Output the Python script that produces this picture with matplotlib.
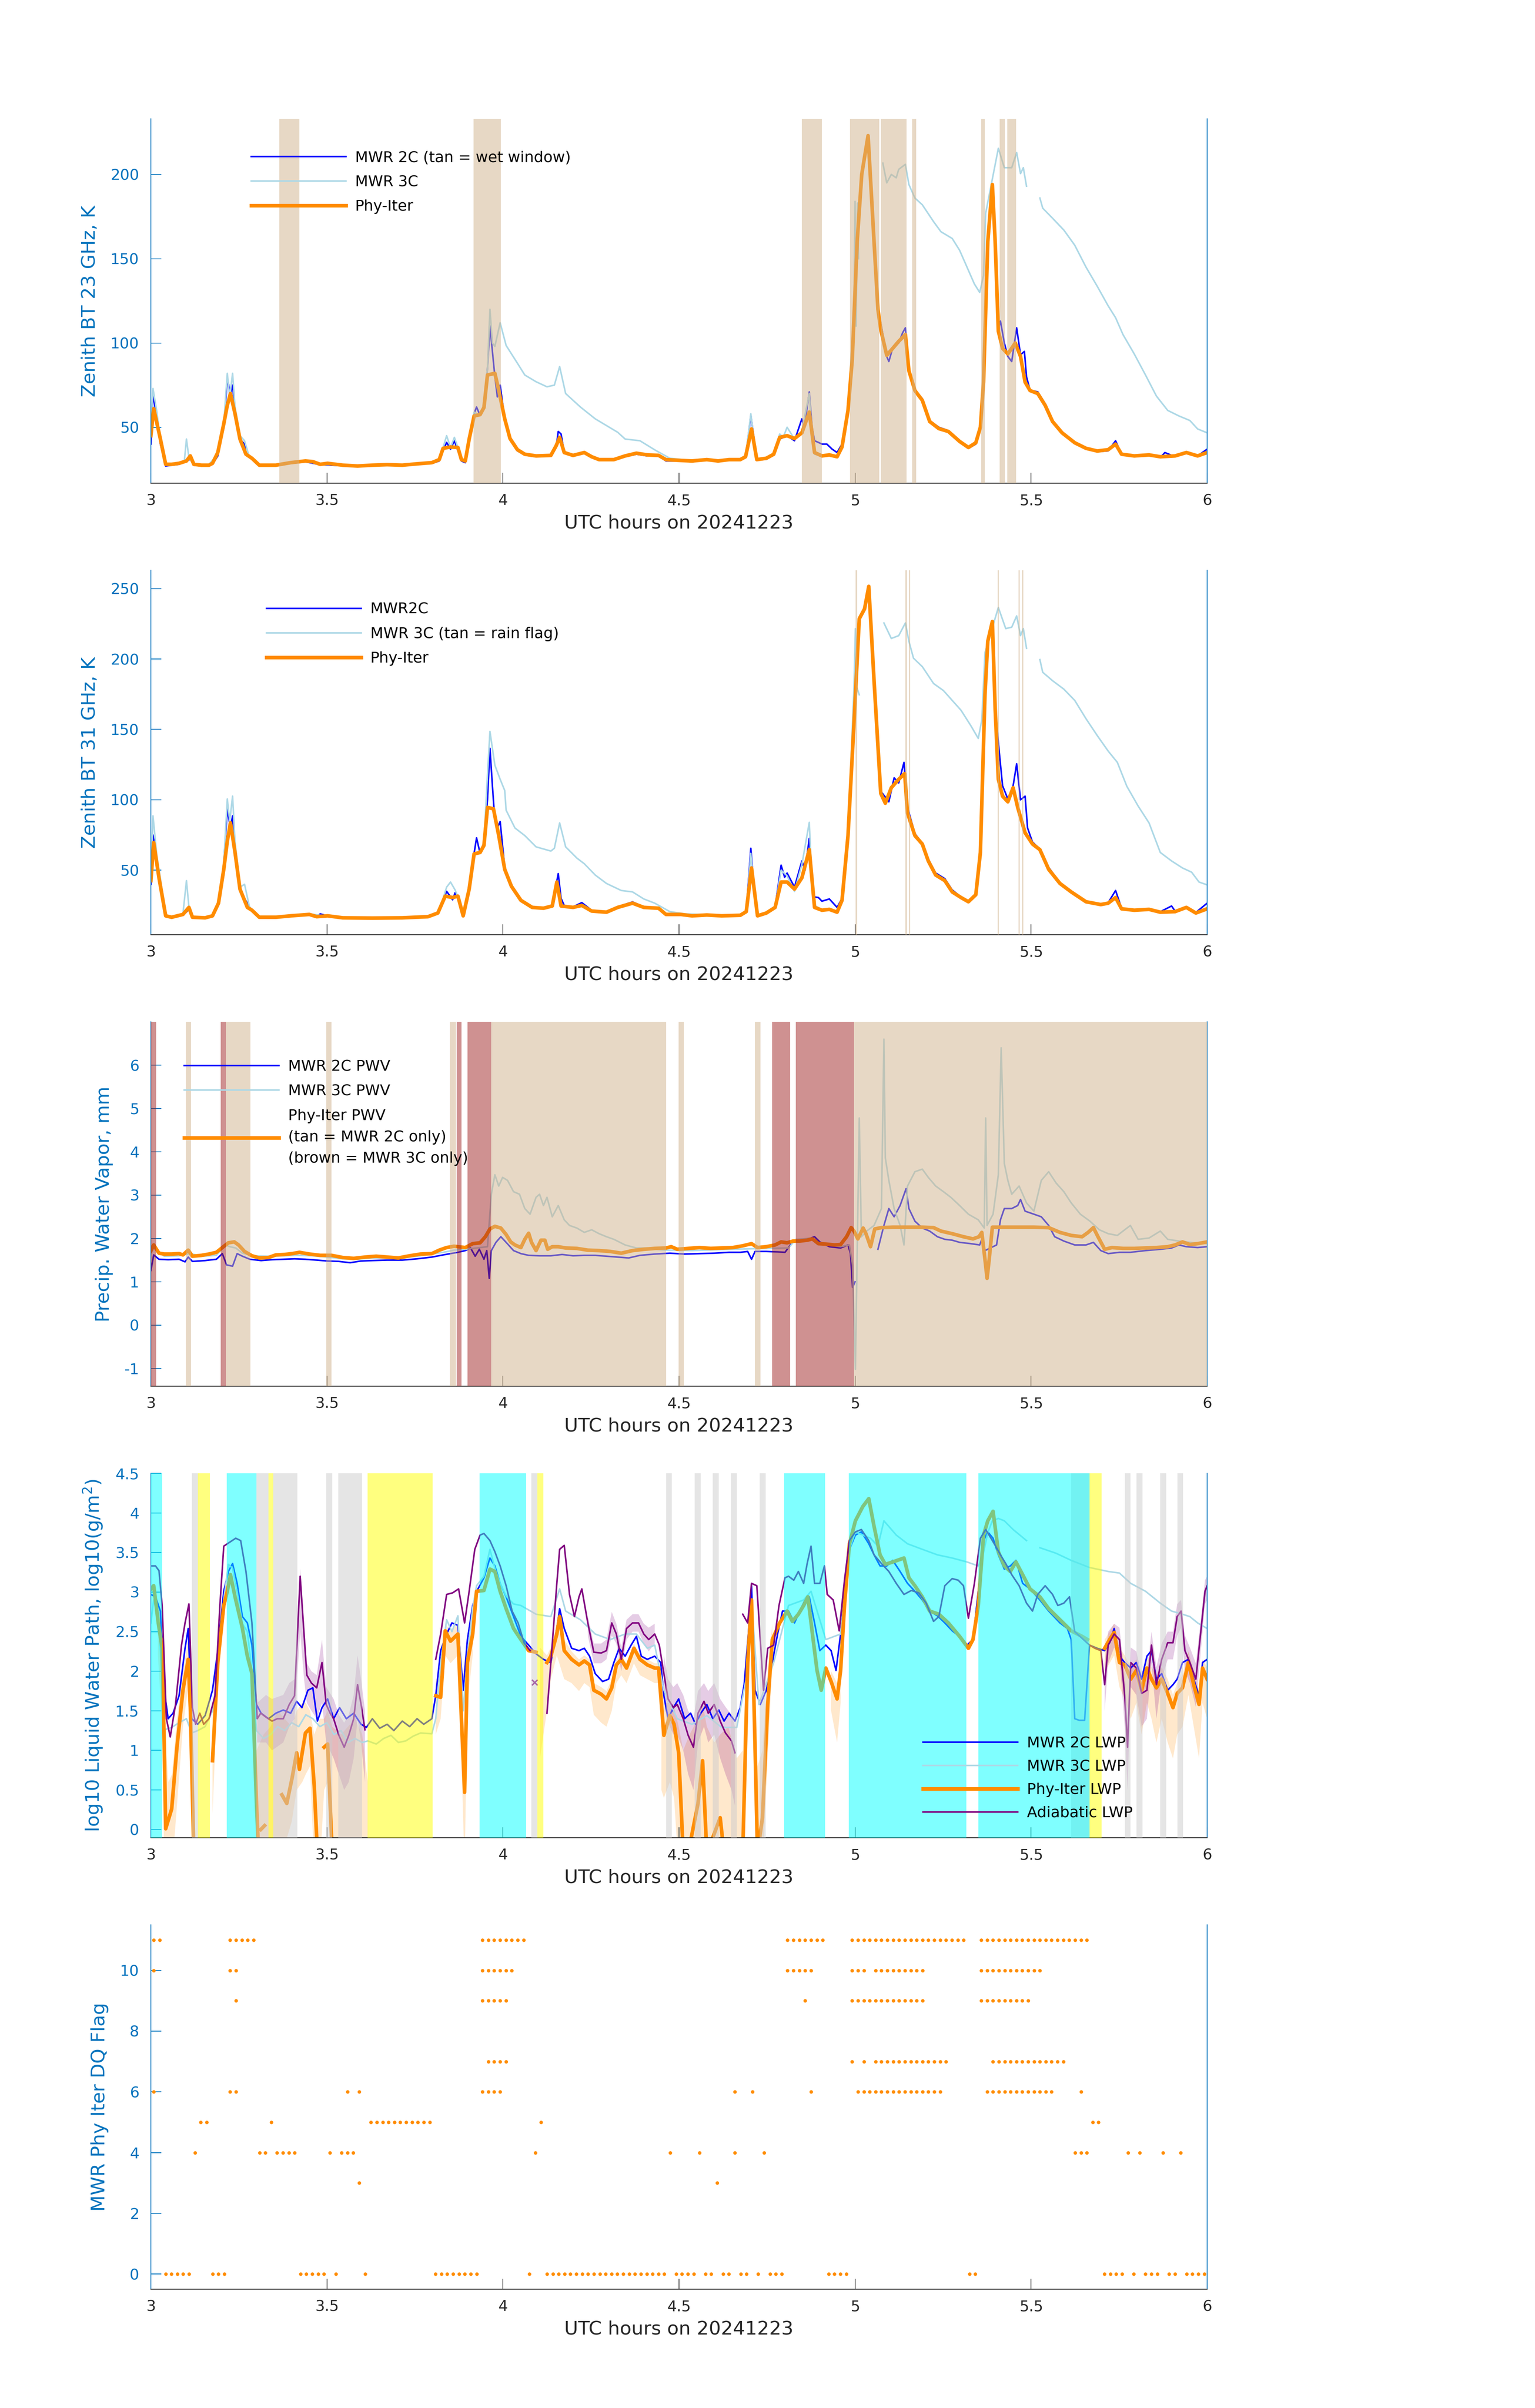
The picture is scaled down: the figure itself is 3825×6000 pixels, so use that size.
import numpy as np
import matplotlib
matplotlib.use('Agg')
import matplotlib.pyplot as plt
from matplotlib.ticker import FuncFormatter

plt.rcParams['font.family'] = 'DejaVu Sans'
plt.rcParams['axes.unicode_minus'] = False

nan = np.nan

# ---------------- data ----------------
# panel 1: zenith BT 23 GHz (hour, K)
bt23_2c = [(3.000, 40), (3.006, 70), (3.017, 55), (3.027, 40), (3.042, 27), (3.059, 27.5), (3.080, 28), (3.101, 30),
           (3.112, 31), (3.122, 27.5), (3.144, 27), (3.165, 27.5), (3.175, 28), (3.190, 33), (3.207, 50), (3.217, 79),
           (3.226, 70), (3.232, 75), (3.239, 60), (3.253, 43), (3.266, 40), (3.270, 34), (3.287, 31), (3.308, 27),
           (3.355, 27.5), (3.397, 28.5), (3.439, 29.5), (3.481, 27.8), (3.545, 27.2), (3.587, 26.8), (3.629, 27.2),
           (3.671, 27.5), (3.714, 27.2), (3.756, 28), (3.798, 28.5), (3.819, 30), (3.830, 36), (3.840, 41), (3.851, 37),
           (3.862, 42), (3.872, 36), (3.882, 30), (3.893, 29), (3.904, 42), (3.918, 58), (3.925, 62), (3.935, 57),
           (3.946, 62), (3.956, 85), (3.963, 110), (3.970, 95), (3.977, 80), (3.984, 68), (3.992, 75), (4.005, 55),
           (4.020, 43), (4.041, 36), (4.062, 33.5), (4.094, 32.5), (4.136, 33), (4.151, 38), (4.157, 47.5), (4.165, 46),
           (4.174, 35), (4.199, 33), (4.231, 35.5), (4.252, 32), (4.273, 30.5), (4.315, 30.5), (4.347, 32.5), (4.379, 34),
           (4.410, 33), (4.442, 33), (4.463, 30), (4.505, 30), (4.537, 29.5), (4.579, 30.5), (4.611, 29.5), (4.642, 30.5),
           (4.674, 30.5), (4.689, 32), (4.704, 57), (4.712, 45), (4.721, 30.5), (4.748, 31), (4.769, 33.5), (4.786, 43),
           (4.807, 45), (4.828, 42), (4.849, 55), (4.856, 50), (4.870, 71), (4.878, 50), (4.885, 42), (4.896, 41),
           (4.906, 40), (4.920, 40), (4.935, 37), (4.949, 35), (4.963, 40), (4.980, 62), (4.992, 95), (5.006, 160),
           (5.019, 200), (5.037, 222), (5.054, 160), (5.065, 118), (5.073, 112), (5.090, 92), (5.096, 89), (5.107, 97),
           (5.124, 100), (5.135, 106), (5.143, 109), (5.153, 85), (5.170, 72), (5.191, 67), (5.212, 54), (5.238, 50),
           (5.265, 48), (5.297, 41), (5.322, 37.5), (5.343, 40), (5.356, 50), (5.365, 78), (5.377, 160), (5.390, 193),
           (5.398, 160), (5.407, 108), (5.413, 113), (5.424, 100), (5.434, 92), (5.445, 89), (5.459, 109), (5.470, 93),
           (5.481, 95), (5.487, 80), (5.497, 72), (5.519, 71), (5.540, 64), (5.561, 54), (5.588, 47), (5.624, 41),
           (5.656, 37), (5.688, 35.5), (5.719, 36), (5.740, 42), (5.757, 34), (5.793, 33), (5.835, 33.6), (5.867, 32),
           (5.880, 35), (5.909, 32.5), (5.941, 35.5), (5.973, 33), (6.000, 37)]
bt23_3c = [(3.000, 48), (3.006, 73), (3.017, 59), (3.027, 42), (3.042, 28.5), (3.059, 28.5), (3.080, 29), (3.095, 30),
           (3.101, 43), (3.108, 32), (3.122, 28), (3.144, 27.5), (3.165, 28), (3.190, 34), (3.207, 52), (3.217, 82),
           (3.224, 68), (3.232, 82), (3.239, 62), (3.253, 45), (3.266, 42), (3.280, 32), (3.308, 27.5), (3.355, 28),
           (3.397, 28.8), (3.439, 29.8), (3.481, 28), (3.545, 27.5), (3.587, 27), (3.629, 27.6), (3.671, 28),
           (3.714, 28), (3.756, 28.5), (3.798, 29), (3.819, 31), (3.830, 38), (3.840, 45), (3.851, 38), (3.862, 44),
           (3.872, 38), (3.882, 31), (3.893, 30), (3.904, 44), (3.918, 59), (3.935, 57), (3.946, 63), (3.956, 85),
           (3.963, 120), (3.970, 100), (3.977, 98), (3.992, 112), (4.009, 98.5), (4.041, 88), (4.062, 81), (4.094, 77),
           (4.125, 74), (4.146, 75), (4.161, 86), (4.178, 70), (4.220, 62), (4.262, 55), (4.326, 47), (4.347, 43),
           (4.389, 42), (4.431, 36.6), (4.474, 31.6), (4.516, 30.7), (4.558, 30), (4.579, 30.5), (4.611, 29.8),
           (4.642, 30.5), (4.674, 30.8), (4.689, 32), (4.704, 58), (4.712, 44), (4.721, 31), (4.748, 31), (4.769, 34),
           (4.786, 46), (4.796, 44), (4.807, 50), (4.828, 43), (4.849, 48), (4.870, 70), (4.878, 45), (4.885, 34),
           (4.906, 33), (4.927, 33), (4.949, 32), (4.963, 38), (4.980, 60), (4.997, 120), (5.000, 184), (5.003, 110),
           (5.007, 183), (5.010, 150), (nan, nan), (5.079, 206.7), (5.090, 195), (5.103, 200), (5.117, 198),
           (5.124, 203), (5.143, 206), (5.153, 194), (5.170, 186), (5.191, 182), (5.223, 172), (5.244, 166),
           (5.276, 162), (5.297, 155), (5.318, 145), (5.339, 135), (5.354, 130), (5.365, 140), (5.371, 177),
           (5.407, 215.5), (5.424, 204), (5.445, 204), (5.459, 213), (5.470, 200.5), (5.478, 204), (5.487, 193),
           (nan, nan), (5.525, 186), (5.533, 180), (5.561, 174), (5.593, 167), (5.624, 158), (5.656, 145),
           (5.688, 133.6), (5.719, 122), (5.740, 115), (5.761, 105), (5.793, 93.5), (5.825, 81), (5.856, 68.5),
           (5.888, 60), (5.920, 56.7), (5.951, 54), (5.973, 49), (6.000, 46.7)]
bt23_phy = [(3.000, 45), (3.008, 61), (3.027, 43), (3.042, 28), (3.059, 28), (3.080, 28.6), (3.101, 30), (3.112, 33),
            (3.122, 28), (3.144, 27.5), (3.165, 27.5), (3.175, 28.6), (3.190, 35), (3.207, 52), (3.217, 63),
            (3.226, 70), (3.239, 58), (3.253, 43), (3.270, 34), (3.287, 31.6), (3.308, 27.5), (3.355, 27.5),
            (3.397, 29), (3.439, 30), (3.460, 29.6), (3.481, 28), (3.502, 28.6), (3.545, 27.5), (3.587, 27),
            (3.629, 27.5), (3.671, 27.8), (3.714, 27.5), (3.756, 28.3), (3.798, 29), (3.819, 30.8), (3.830, 37.5),
            (3.851, 38.3), (3.872, 38), (3.882, 30.8), (3.893, 30), (3.904, 43), (3.918, 56.7), (3.935, 57.5),
            (3.946, 61.7), (3.956, 81), (3.977, 82), (3.988, 72), (4.005, 55), (4.020, 43.3), (4.041, 36.7),
            (4.062, 34), (4.094, 33), (4.136, 33.3), (4.151, 39), (4.161, 44), (4.174, 35), (4.199, 33.3), (4.231, 35),
            (4.252, 32.5), (4.273, 30.8), (4.315, 30.8), (4.347, 33), (4.379, 34.6), (4.410, 33.6), (4.442, 33.3),
            (4.463, 30.8), (4.505, 30.3), (4.537, 30), (4.579, 30.8), (4.611, 30), (4.642, 30.8), (4.674, 30.8),
            (4.689, 32.5), (4.706, 49), (4.721, 30.8), (4.748, 31.6), (4.769, 34), (4.786, 44), (4.807, 45),
            (4.828, 43.3), (4.849, 46.7), (4.870, 59), (4.885, 35), (4.906, 33), (4.927, 33.6), (4.949, 32.5),
            (4.963, 38.3), (4.980, 60), (4.992, 90), (5.006, 160), (5.019, 200), (5.037, 223), (5.054, 160),
            (5.065, 120), (5.073, 108), (5.090, 92.7), (5.107, 96.8), (5.124, 101), (5.143, 105), (5.153, 83.5),
            (5.170, 71.8), (5.191, 66), (5.212, 53.4), (5.238, 49.2), (5.265, 47.5), (5.297, 41.6), (5.322, 38),
            (5.343, 40.8), (5.356, 50), (5.365, 76.8), (5.377, 160), (5.390, 194), (5.398, 160), (5.407, 107),
            (5.419, 96.8), (5.434, 93.5), (5.455, 100), (5.470, 92), (5.483, 76.8), (5.497, 71.8), (5.519, 70),
            (5.540, 63), (5.561, 53.4), (5.588, 46.7), (5.624, 40.8), (5.656, 37.5), (5.688, 35.9), (5.719, 36.7),
            (5.740, 40), (5.757, 34), (5.793, 33), (5.835, 33.6), (5.867, 32.5), (5.909, 33), (5.941, 35),
            (5.973, 33), (6.000, 35)]
wet_window = [(3.365, 3.422), (3.916, 3.994), (4.849, 4.906), (4.986, 5.069), (5.073, 5.146), (5.162, 5.174),
              (5.358, 5.369), (5.411, 5.426), (5.432, 5.457)]

# panel 2: zenith BT 31 GHz (hour, K)
bt31_2c = [(3.000, 40), (3.006, 75), (3.023, 48), (3.042, 17), (3.059, 16), (3.091, 18), (3.108, 22), (3.118, 16),
           (3.154, 16), (3.175, 17), (3.192, 26), (3.207, 55), (3.217, 93.6), (3.226, 80), (3.232, 88.6), (3.239, 65),
           (3.253, 36), (3.266, 30), (3.287, 21), (3.308, 16.5), (3.355, 16.5), (3.397, 17.2), (3.450, 18.2),
           (3.471, 16.8), (3.481, 19), (3.502, 17.5), (3.545, 16), (3.629, 15.8), (3.714, 16), (3.787, 16.8),
           (3.815, 19), (3.830, 28), (3.840, 35), (3.857, 29), (3.864, 34), (3.872, 30), (3.887, 17), (3.904, 38),
           (3.918, 62), (3.925, 73), (3.935, 62), (3.946, 68), (3.956, 100), (3.963, 136.6), (3.970, 110),
           (3.977, 85), (3.984, 80), (3.992, 84.6), (4.005, 52), (4.024, 39), (4.051, 29), (4.083, 24), (4.115, 23.5),
           (4.140, 25), (4.157, 47.6), (4.165, 30), (4.174, 25), (4.199, 24), (4.224, 27), (4.252, 21.5),
           (4.294, 20.5), (4.326, 24), (4.368, 27.5), (4.400, 24), (4.442, 23.5), (4.463, 19), (4.505, 18.6),
           (4.537, 17.6), (4.579, 18.5), (4.621, 18), (4.674, 18.2), (4.691, 21), (4.704, 65.6), (4.712, 40),
           (4.723, 18), (4.748, 20), (4.773, 24), (4.790, 53.6), (4.800, 45), (4.807, 48), (4.828, 38), (4.849, 56.6),
           (4.858, 50), (4.870, 72.6), (4.878, 40), (4.885, 31), (4.896, 30.6), (4.906, 28), (4.927, 29.6),
           (4.949, 23.6), (4.963, 30), (4.980, 78), (4.997, 156), (5.012, 228), (5.027, 235), (5.039, 250),
           (5.054, 185), (5.073, 106), (5.086, 102), (5.096, 98.6), (5.111, 115.6), (5.124, 112), (5.139, 126.6),
           (5.149, 94.6), (5.170, 76), (5.191, 69), (5.208, 58), (5.229, 48), (5.255, 44), (5.276, 36), (5.301, 31),
           (5.322, 28), (5.343, 33), (5.356, 63), (5.369, 175), (5.377, 212), (5.390, 226), (5.398, 165),
           (5.407, 140.6), (5.419, 110), (5.434, 100.6), (5.449, 110), (5.459, 125.6), (5.470, 100), (5.483, 102.6),
           (5.490, 80), (5.504, 70), (5.525, 65), (5.550, 52), (5.582, 41), (5.614, 35), (5.656, 28), (5.698, 26),
           (5.719, 27), (5.740, 35.6), (5.757, 23), (5.793, 22), (5.835, 22.5), (5.867, 20.5), (5.899, 24.6),
           (5.909, 21), (5.941, 24), (5.968, 20), (6.000, 26.6)]
bt31_3c = [(3.000, 45), (3.006, 88.6), (3.017, 60), (3.027, 44), (3.042, 18), (3.059, 17), (3.091, 19),
           (3.101, 42.6), (3.108, 24), (3.118, 17), (3.154, 16.5), (3.175, 18), (3.192, 27), (3.207, 55),
           (3.217, 100.6), (3.224, 85), (3.232, 102.6), (3.239, 70), (3.253, 38), (3.266, 40), (3.280, 24),
           (3.308, 17), (3.355, 17), (3.397, 18), (3.450, 19), (3.481, 18), (3.545, 16.8), (3.629, 16.5),
           (3.714, 16.8), (3.787, 17.5), (3.815, 20), (3.830, 30), (3.840, 38), (3.851, 41.6), (3.864, 36),
           (3.872, 31), (3.887, 18), (3.904, 38), (3.918, 62), (3.935, 63), (3.946, 70), (3.956, 118),
           (3.963, 148.6), (3.977, 124.6), (3.992, 114.6), (4.005, 106.6), (4.009, 92.6), (4.034, 80), (4.062, 74.6),
           (4.094, 66.6), (4.136, 63.6), (4.146, 65.6), (4.161, 83.6), (4.178, 66.6), (4.210, 58.6), (4.231, 54.6),
           (4.262, 46.6), (4.294, 40.6), (4.336, 35.6), (4.368, 34.6), (4.400, 29.6), (4.431, 26.6), (4.474, 20.6),
           (4.516, 19), (4.558, 18.6), (4.579, 18.6), (4.621, 18), (4.674, 18.5), (4.691, 21), (4.704, 62),
           (4.712, 40), (4.723, 18.5), (4.748, 20), (4.773, 24), (4.790, 50), (4.807, 46), (4.828, 35), (4.849, 54),
           (4.870, 84), (4.878, 40), (4.885, 25), (4.906, 22), (4.927, 22.5), (4.949, 21), (4.963, 29), (4.980, 76),
           (4.997, 180), (5.001, 221.6), (5.005, 180), (5.012, 174.6), (nan, nan), (5.082, 225.6), (5.103, 214.6),
           (5.124, 216.6), (5.143, 225.6), (5.153, 212.6), (5.166, 200.6), (5.191, 194.6), (5.223, 182.6),
           (5.251, 177.6), (5.276, 170.6), (5.301, 163.6), (5.329, 152.6), (5.350, 143.6), (5.360, 156.6),
           (5.369, 204.6), (5.407, 236.6), (5.428, 221.6), (5.445, 222.6), (5.459, 230.6), (5.470, 216.6),
           (5.478, 221.6), (5.487, 207.6), (nan, nan), (5.525, 199.6), (5.533, 190.6), (5.561, 184.6),
           (5.593, 178.6), (5.624, 170.6), (5.656, 157.6), (5.688, 145.6), (5.719, 134.6), (5.745, 126.6),
           (5.772, 109.6), (5.804, 95.6), (5.835, 83.6), (5.867, 62.6), (5.899, 56.6), (5.930, 51.6), (5.956, 48.6),
           (5.977, 41.6), (6.000, 39.6)]
bt31_phy = [(3.000, 42.6), (3.008, 69.6), (3.023, 44.6), (3.042, 17.6), (3.059, 16.6), (3.091, 18.6), (3.108, 23.6),
            (3.118, 16.6), (3.154, 16.2), (3.175, 17.6), (3.192, 26.6), (3.207, 50.6), (3.217, 70.6), (3.226, 83.6),
            (3.239, 62.6), (3.253, 36.6), (3.274, 23.6), (3.287, 21.6), (3.308, 16.6), (3.355, 16.6), (3.397, 17.6),
            (3.450, 18.6), (3.471, 17), (3.502, 17.6), (3.545, 16.2), (3.629, 16), (3.714, 16.2), (3.787, 17),
            (3.815, 19.6), (3.836, 31.6), (3.857, 30.6), (3.872, 31.6), (3.887, 17.6), (3.904, 36.6), (3.918, 61.6),
            (3.935, 62.6), (3.946, 67.6), (3.956, 94.6), (3.973, 93.6), (3.988, 74.6), (4.005, 50.6), (4.024, 38.6),
            (4.051, 28.6), (4.083, 23.6), (4.115, 23), (4.140, 24.6), (4.153, 41.6), (4.165, 24.6), (4.199, 23.6),
            (4.224, 25), (4.252, 21), (4.294, 20.2), (4.326, 23.6), (4.368, 26.6), (4.400, 23.6), (4.442, 23),
            (4.463, 18.6), (4.505, 18.6), (4.537, 17.6), (4.579, 18.2), (4.621, 17.6), (4.674, 18), (4.691, 20.6),
            (4.706, 51.6), (4.723, 17.6), (4.748, 19.6), (4.773, 23.6), (4.790, 41.6), (4.807, 41.6), (4.828, 36.6),
            (4.849, 44.6), (4.870, 64.6), (4.885, 23.6), (4.906, 21.6), (4.927, 22.2), (4.949, 20.2), (4.963, 28.6),
            (4.980, 74.6), (4.997, 154.6), (5.012, 228.6), (5.027, 235.6), (5.039, 251.6), (5.054, 184.6),
            (5.073, 104.6), (5.086, 97.6), (5.103, 108.6), (5.124, 114.6), (5.141, 118.6), (5.149, 90.6),
            (5.170, 74.6), (5.191, 68.6), (5.208, 56.6), (5.229, 46.6), (5.255, 42.6), (5.276, 34.6), (5.301, 30.6),
            (5.322, 27.6), (5.343, 32.6), (5.356, 62.6), (5.369, 174.6), (5.377, 212.6), (5.390, 226.6),
            (5.398, 164.6), (5.407, 114.6), (5.419, 102.6), (5.434, 98.6), (5.449, 108.6), (5.462, 94.6),
            (5.483, 76.6), (5.504, 68.6), (5.525, 64.6), (5.550, 50.6), (5.582, 40.6), (5.614, 34.6), (5.656, 27.6),
            (5.698, 25.6), (5.719, 26.6), (5.740, 30.6), (5.757, 22.6), (5.793, 21.6), (5.835, 22.2), (5.867, 20.2),
            (5.909, 20.6), (5.941, 23.6), (5.968, 19.6), (6.000, 22.6)]
rain_flag = [(5.002, 5.006), (5.143, 5.147), (5.153, 5.157), (5.405, 5.409), (5.464, 5.468), (5.474, 5.478)]

# panel 3: precipitable water vapour (hour, mm)
pwv_2c = [(3.000, 1.26), (3.008, 1.62), (3.023, 1.52), (3.049, 1.51), (3.080, 1.52), (3.097, 1.46), (3.106, 1.57),
          (3.118, 1.47), (3.154, 1.49), (3.186, 1.52), (3.203, 1.65), (3.215, 1.39), (3.232, 1.36), (3.245, 1.65),
          (3.260, 1.59), (3.281, 1.52), (3.313, 1.49), (3.344, 1.51), (3.376, 1.52), (3.408, 1.53), (3.439, 1.52),
          (3.471, 1.50), (3.502, 1.48), (3.534, 1.47), (3.566, 1.44), (3.597, 1.48), (3.629, 1.49), (3.671, 1.50),
          (3.714, 1.50), (3.756, 1.53), (3.798, 1.57), (3.830, 1.62), (3.851, 1.65), (3.872, 1.68), (3.893, 1.72),
          (3.908, 1.78), (3.921, 1.59), (3.933, 1.75), (3.946, 1.52), (3.954, 1.72), (3.961, 1.08), (3.967, 1.72),
          (3.980, 1.91), (3.994, 2.04), (4.009, 1.91), (4.030, 1.72), (4.051, 1.65), (4.073, 1.61), (4.104, 1.60),
          (4.136, 1.60), (4.168, 1.63), (4.199, 1.60), (4.231, 1.61), (4.262, 1.61), (4.294, 1.59), (4.326, 1.57),
          (4.357, 1.55), (4.389, 1.61), (4.431, 1.64), (4.474, 1.66), (4.516, 1.64), (4.558, 1.65), (4.600, 1.66),
          (4.642, 1.68), (4.674, 1.68), (4.695, 1.70), (4.706, 1.52), (4.716, 1.70), (4.748, 1.70), (4.780, 1.69),
          (4.801, 1.68), (4.822, 1.91), (4.843, 1.94), (4.864, 1.98), (4.885, 2.04), (4.900, 1.92), (4.927, 1.81),
          (4.959, 1.78), (4.980, 1.85), (4.987, 1.65), (4.993, 0.87), (5.000, 1.0), (nan, nan), (5.065, 1.75),
          (5.082, 2.30), (5.096, 2.69), (5.111, 2.50), (5.128, 2.76), (5.145, 3.15), (5.153, 2.69), (5.170, 2.40),
          (5.191, 2.24), (5.212, 2.17), (5.234, 2.04), (5.255, 1.98), (5.276, 1.96), (5.297, 1.91), (5.329, 1.88),
          (5.354, 1.85), (5.360, 1.98), (5.369, 1.72), (5.402, 1.85), (5.413, 2.43), (5.424, 2.69), (5.445, 2.69),
          (5.462, 2.76), (5.470, 2.90), (5.483, 2.63), (5.508, 2.56), (5.529, 2.50), (5.550, 2.30), (5.567, 2.04),
          (5.593, 1.94), (5.624, 1.85), (5.656, 1.85), (5.677, 1.91), (5.698, 1.72), (5.719, 1.65), (5.751, 1.68),
          (5.782, 1.68), (5.825, 1.72), (5.867, 1.75), (5.899, 1.78), (5.920, 1.85), (5.941, 1.81), (5.973, 1.79),
          (6.000, 1.81)]
pwv_3c = [(3.000, 1.65), (3.008, 1.78), (3.038, 1.59), (3.080, 1.60), (3.112, 1.65), (3.144, 1.59), (3.186, 1.61),
          (3.211, 1.85), (3.224, 1.81), (3.241, 1.78), (3.260, 1.66), (3.291, 1.60), (3.334, 1.59), (3.376, 1.60),
          (3.418, 1.61), (3.460, 1.60), (3.502, 1.57), (3.545, 1.53), (3.587, 1.52), (3.629, 1.55), (3.671, 1.55),
          (3.714, 1.55), (3.756, 1.59), (3.798, 1.64), (3.830, 1.68), (3.861, 1.73), (3.893, 1.75), (3.925, 1.78),
          (3.956, 1.81), (3.967, 3.02), (3.977, 3.47), (3.988, 3.21), (3.999, 3.41), (4.013, 3.34), (4.030, 3.08),
          (4.047, 3.02), (4.062, 2.69), (4.077, 2.56), (4.094, 2.95), (4.104, 3.02), (4.115, 2.76), (4.125, 2.95),
          (4.140, 2.50), (4.157, 2.76), (4.174, 2.43), (4.189, 2.30), (4.210, 2.24), (4.231, 2.14), (4.252, 2.20),
          (4.273, 2.11), (4.294, 2.04), (4.315, 1.98), (4.347, 1.85), (4.379, 1.78), (4.410, 1.78), (4.431, 1.75),
          (4.463, 1.73), (4.537, 1.72), (4.642, 1.75), (4.748, 1.77), (4.811, 1.78), (4.832, 1.98), (4.853, 1.99),
          (4.874, 2.01), (4.896, 1.91), (4.927, 1.85), (4.959, 1.81), (4.984, 1.85), (4.993, 1.39), (5.001, -1.02),
          (5.008, 2.69), (5.012, 4.78), (5.018, 2.04), (5.033, 2.17), (5.054, 2.30), (5.075, 2.69), (5.082, 6.60),
          (5.086, 3.86), (5.096, 3.34), (5.111, 2.69), (5.128, 2.30), (5.139, 1.85), (5.149, 3.21), (5.170, 3.54),
          (5.191, 3.60), (5.208, 3.41), (5.229, 3.21), (5.251, 3.08), (5.272, 2.95), (5.297, 2.76), (5.322, 2.56),
          (5.350, 2.43), (5.367, 2.24), (5.371, 4.78), (5.375, 2.30), (5.392, 2.56), (5.407, 3.47), (5.415, 6.40),
          (5.424, 3.73), (5.434, 3.34), (5.445, 3.02), (5.466, 3.21), (5.487, 2.82), (5.508, 2.63), (5.529, 3.34),
          (5.550, 3.54), (5.571, 3.28), (5.593, 3.08), (5.614, 2.82), (5.640, 2.56), (5.667, 2.40), (5.694, 2.20),
          (5.719, 2.11), (5.745, 2.07), (5.782, 2.30), (5.804, 1.98), (5.835, 2.01), (5.867, 2.17), (5.888, 1.98),
          (5.920, 1.94), (5.951, 1.91), (6.000, 1.88)]
pwv_phy = [(3.000, 1.72), (3.008, 1.85), (3.023, 1.66), (3.038, 1.64), (3.059, 1.64), (3.080, 1.65), (3.091, 1.62),
           (3.106, 1.73), (3.118, 1.59), (3.144, 1.61), (3.165, 1.64), (3.186, 1.68), (3.203, 1.79), (3.220, 1.90),
           (3.237, 1.92), (3.249, 1.85), (3.266, 1.70), (3.287, 1.60), (3.308, 1.55), (3.334, 1.56), (3.355, 1.62),
           (3.380, 1.63), (3.401, 1.65), (3.422, 1.68), (3.450, 1.64), (3.481, 1.61), (3.513, 1.61), (3.545, 1.56),
           (3.576, 1.54), (3.608, 1.57), (3.640, 1.59), (3.671, 1.57), (3.703, 1.55), (3.735, 1.60), (3.766, 1.64),
           (3.798, 1.65), (3.819, 1.73), (3.840, 1.79), (3.861, 1.82), (3.893, 1.79), (3.914, 1.88), (3.935, 1.90),
           (3.950, 2.04), (3.963, 2.22), (3.977, 2.28), (3.994, 2.24), (4.009, 2.09), (4.022, 1.92), (4.034, 1.85),
           (4.051, 1.79), (4.062, 1.98), (4.073, 2.12), (4.081, 1.91), (4.094, 1.72), (4.108, 1.96), (4.119, 1.96),
           (4.127, 1.75), (4.140, 1.81), (4.157, 1.81), (4.178, 1.78), (4.210, 1.77), (4.241, 1.73), (4.273, 1.72),
           (4.305, 1.70), (4.336, 1.66), (4.368, 1.72), (4.400, 1.75), (4.431, 1.77), (4.463, 1.78), (4.478, 1.81),
           (4.495, 1.75), (4.526, 1.77), (4.558, 1.79), (4.590, 1.77), (4.621, 1.78), (4.653, 1.79), (4.681, 1.83),
           (4.706, 1.88), (4.723, 1.79), (4.748, 1.81), (4.773, 1.85), (4.790, 1.92), (4.807, 1.90), (4.824, 1.94),
           (4.843, 1.94), (4.864, 1.96), (4.879, 1.99), (4.896, 1.88), (4.917, 1.87), (4.942, 1.85), (4.959, 1.86),
           (4.976, 2.04), (4.989, 2.25), (4.997, 2.17), (5.008, 1.99), (5.023, 2.24), (5.031, 2.11), (5.044, 1.81),
           (5.056, 2.22), (5.075, 2.25), (5.107, 2.26), (5.149, 2.26), (5.191, 2.26), (5.223, 2.25), (5.244, 2.17),
           (5.276, 2.11), (5.308, 2.04), (5.335, 1.99), (5.352, 2.04), (5.360, 2.14), (5.369, 1.52), (5.375, 1.08),
           (5.381, 1.52), (5.390, 2.26), (5.424, 2.26), (5.466, 2.26), (5.508, 2.26), (5.550, 2.25), (5.582, 2.14),
           (5.614, 2.07), (5.645, 2.04), (5.662, 2.14), (5.677, 2.25), (5.690, 2.04), (5.709, 1.75), (5.730, 1.79),
           (5.761, 1.77), (5.793, 1.77), (5.825, 1.78), (5.856, 1.79), (5.888, 1.81), (5.909, 1.85), (5.930, 1.92),
           (5.951, 1.86), (5.973, 1.88), (6.000, 1.92)]
only_2c = [(3.099, 3.114), (3.213, 3.283), (3.498, 3.513), (3.849, 3.866), (3.967, 4.463), (4.499, 4.514),
           (4.716, 4.731), (4.997, 6.0)]
only_3c = [(3.000, 3.015), (3.198, 3.213), (3.868, 3.882), (3.899, 3.967), (4.765, 4.816), (4.832, 4.997)]

# panel 4: log10 liquid water path (hour, log10 g/m2)
lwp_2c = [(3.000, 2.97), (3.013, 2.94), (3.027, 2.76), (3.038, 1.76), (3.049, 1.40), (3.063, 1.47), (3.080, 1.69),
          (3.097, 2.29), (3.106, 2.54), (3.116, 1.40), (3.133, 1.33), (3.154, 1.44), (3.175, 1.76), (3.190, 2.26),
          (3.207, 3.01), (3.220, 3.26), (3.232, 3.36), (3.245, 3.11), (3.260, 2.69), (3.274, 2.61), (3.287, 2.33),
          (3.300, 1.58), (3.313, 1.47), (3.334, 1.40), (3.355, 1.47), (3.376, 1.51), (3.397, 1.47), (3.414, 1.62),
          (3.429, 1.54), (3.446, 1.76), (3.460, 1.79), (3.473, 1.37), (3.486, 1.54), (3.502, 1.65), (3.519, 1.40),
          (3.536, 1.54), (3.555, 1.40), (3.576, 1.47), (3.597, 1.33), (3.612, 1.29), (3.629, 1.40), (3.650, 1.28),
          (3.671, 1.33), (3.690, 1.25), (3.714, 1.37), (3.735, 1.30), (3.756, 1.40), (3.775, 1.33), (3.798, 1.40),
          (3.809, 1.69), (3.823, 2.26), (3.840, 2.47), (3.855, 2.61), (3.872, 2.58), (3.887, 1.76), (3.899, 2.40),
          (3.914, 2.83), (3.929, 3.04), (3.946, 3.18), (3.963, 3.43), (3.977, 3.33), (3.992, 3.11), (4.009, 2.94),
          (4.030, 2.69), (4.051, 2.44), (4.073, 2.33), (4.094, 2.22), (4.115, 2.15), (4.136, 2.11), (4.153, 2.54),
          (4.161, 2.79), (4.174, 2.54), (4.195, 2.29), (4.216, 2.26), (4.231, 2.29), (4.246, 2.19), (4.262, 1.97),
          (4.283, 1.87), (4.300, 1.90), (4.315, 2.11), (4.330, 2.29), (4.347, 2.19), (4.364, 2.33), (4.379, 2.44),
          (4.393, 2.19), (4.410, 2.15), (4.431, 2.19), (4.448, 2.11), (4.457, 1.69), (4.469, 1.40), (4.484, 1.54),
          (4.499, 1.65), (4.516, 1.40), (4.533, 1.47), (4.547, 1.33), (4.562, 1.47), (4.579, 1.58), (4.596, 1.40),
          (4.613, 1.51), (4.628, 1.37), (4.642, 1.47), (4.659, 1.37), (4.674, 1.54), (4.685, 1.83), (4.697, 2.47),
          (4.706, 3.08), (4.716, 1.76), (4.731, 1.58), (4.748, 1.76), (4.765, 2.11), (4.780, 2.47), (4.794, 2.76),
          (4.811, 2.76), (4.828, 2.61), (4.843, 2.76), (4.858, 2.90), (4.870, 2.94), (4.885, 2.61), (4.900, 2.26),
          (4.917, 2.33), (4.932, 2.26), (4.946, 2.01), (4.959, 2.47), (4.972, 3.11), (4.984, 3.54), (5.001, 3.72),
          (5.018, 3.76), (5.039, 3.61), (5.054, 3.47), (5.071, 3.33), (5.090, 3.33), (5.107, 3.40), (5.128, 3.26),
          (5.149, 3.11), (5.170, 3.01), (5.191, 2.90), (5.212, 2.76), (5.234, 2.70), (5.255, 2.61), (5.276, 2.51),
          (5.297, 2.44), (5.318, 2.33), (5.335, 2.40), (5.350, 3.01), (5.365, 3.65), (5.377, 3.76), (5.392, 3.68),
          (5.407, 3.47), (5.424, 3.29), (5.441, 3.33), (5.457, 3.40), (5.476, 3.11), (5.497, 3.04), (5.525, 2.90),
          (5.550, 2.76), (5.582, 2.61), (5.603, 2.54), (5.614, 2.40), (5.624, 1.40), (5.637, 1.38), (5.652, 1.38),
          (5.666, 2.33), (5.688, 2.29), (5.709, 2.26), (5.723, 2.36), (5.736, 2.54), (5.751, 2.19), (5.766, 2.11),
          (5.783, 2.04), (5.799, 2.11), (5.814, 1.90), (5.829, 2.19), (5.842, 2.26), (5.856, 1.90), (5.871, 1.97),
          (5.888, 1.76), (5.903, 1.83), (5.915, 1.90), (5.930, 2.11), (5.947, 2.15), (5.962, 1.90), (5.977, 1.69),
          (5.987, 2.11), (6.000, 2.15)]
lwp_3c = [(3.000, 2.61), (3.008, 2.90), (3.021, 2.70), (3.032, 1.90), (3.038, 1.26), (3.059, 1.29), (3.080, 1.35),
          (3.101, 1.40), (3.116, 1.22), (3.133, 1.25), (3.154, 1.30), (3.175, 1.50), (3.190, 2.00), (3.207, 2.90),
          (3.220, 3.35), (3.232, 3.30), (3.245, 3.00), (3.260, 2.60), (3.274, 2.50), (3.287, 2.00), (3.300, 1.25),
          (3.320, 1.15), (3.340, 1.20), (3.360, 1.30), (3.380, 1.25), (3.400, 1.35), (3.420, 1.30), (3.440, 1.45),
          (3.460, 1.40), (3.480, 1.30), (3.500, 1.35), (3.520, 1.20), (3.540, 1.25), (3.560, 1.10), (3.580, 1.15),
          (3.600, 1.10), (3.616, 1.12), (3.640, 1.08), (3.661, 1.15), (3.682, 1.19), (3.703, 1.10), (3.724, 1.12),
          (3.745, 1.18), (3.766, 1.22), (3.798, 1.21), (3.809, 1.40), (3.823, 2.10), (3.840, 2.65), (3.855, 2.50),
          (3.872, 2.70), (3.887, 1.50), (3.899, 2.20), (3.914, 2.80), (3.925, 3.08), (3.946, 3.20), (3.963, 3.54),
          (3.977, 3.30), (3.992, 3.11), (4.009, 2.95), (4.030, 2.85), (4.051, 2.83), (4.094, 2.72), (4.136, 2.69),
          (4.161, 3.04), (4.178, 2.76), (4.220, 2.65), (4.262, 2.47), (4.305, 2.40), (4.347, 2.47), (4.379, 2.47),
          (4.410, 2.29), (4.431, 2.33), (4.457, 1.76), (4.495, 1.40), (4.537, 1.33), (4.579, 1.44), (4.621, 1.29),
          (4.664, 1.29), (4.695, 2.00), (4.706, 2.90), (4.727, 1.58), (4.769, 2.11), (4.811, 2.83), (4.854, 2.90),
          (4.875, 3.01), (4.917, 2.40), (4.959, 2.47), (4.984, 3.54), (5.001, 3.76), (5.044, 3.68), (5.065, 3.58),
          (5.082, 3.90), (5.117, 3.72), (5.149, 3.61), (5.191, 3.54), (5.234, 3.47), (5.276, 3.43), (5.318, 3.38),
          (5.350, 3.33), (5.365, 3.50), (5.377, 3.75), (5.390, 3.90), (5.407, 3.93), (5.424, 3.90), (5.449, 3.79),
          (5.487, 3.65), (nan, nan), (5.525, 3.56), (5.571, 3.49), (5.614, 3.40), (5.666, 3.31), (5.719, 3.26),
          (5.751, 3.24), (5.783, 3.11), (5.825, 3.01), (5.867, 2.86), (5.899, 2.76), (5.930, 2.72), (5.951, 2.69),
          (5.973, 2.61), (6.000, 2.54)]
lwp_phy = [(3.000, 3.04), (3.008, 3.08), (3.021, 2.61), (3.032, 2.29), (3.038, 1.04), (3.042, 0.01), (3.059, 0.26),
           (3.074, 1.04), (3.091, 1.76), (3.106, 2.15), (3.112, 1.54), (3.122, -0.3), (nan, nan), (3.175, 0.87),
           (3.190, 2.11), (3.207, 2.83), (3.217, 3.01), (3.226, 3.22), (3.239, 2.94), (3.260, 2.54), (3.274, 2.19),
           (3.287, 1.97), (3.300, 0.33), (3.306, -0.3), (nan, nan), (3.312, 0.0), (3.323, 0.05), (nan, nan),
           (3.372, 0.44), (3.386, 0.33), (3.401, 0.65), (3.414, 0.97), (3.422, 0.76), (3.439, 1.22), (3.452, 1.28),
           (3.464, 0.55), (3.473, -0.3), (nan, nan), (3.492, 1.04), (3.502, 1.08), (3.515, -0.3), (nan, nan),
           (3.809, 1.69), (3.823, 1.67), (3.836, 2.51), (3.851, 2.38), (3.872, 2.47), (3.882, 1.40), (3.891, 0.47),
           (3.899, 2.11), (3.914, 2.47), (3.925, 3.01), (3.946, 3.02), (3.963, 3.29), (3.977, 3.26), (3.992, 3.01),
           (4.009, 2.79), (4.030, 2.54), (4.051, 2.40), (4.073, 2.26), (4.094, 2.24), (nan, nan), (4.125, 2.11),
           (4.136, 2.19), (4.153, 2.47), (4.161, 2.69), (4.174, 2.26), (4.195, 2.15), (4.216, 2.08), (4.231, 2.13),
           (4.246, 2.08), (4.258, 1.76), (4.279, 1.71), (4.294, 1.65), (4.309, 1.79), (4.322, 2.08), (4.336, 2.15),
           (4.351, 2.04), (4.372, 2.29), (4.389, 2.15), (4.410, 2.08), (4.431, 2.04), (4.442, 2.04), (4.457, 1.19),
           (4.474, 1.44), (4.486, 1.33), (4.499, 0.97), (4.512, -0.3), (4.526, -0.3), (4.554, 0.33), (4.567, 0.87),
           (4.579, -0.3), (4.596, -0.1), (4.617, 0.15), (4.628, -0.3), (4.642, -0.2), (4.664, -0.3), (4.681, -0.3),
           (4.695, 2.11), (4.706, 2.90), (4.716, 1.04), (4.723, -0.3), (4.737, 0.15), (4.752, 1.58), (4.765, 2.40),
           (4.786, 2.61), (4.807, 2.76), (4.822, 2.63), (4.839, 2.72), (4.854, 2.83), (4.866, 2.94), (4.879, 2.47),
           (4.892, 2.01), (4.904, 1.76), (4.917, 2.04), (4.932, 1.87), (4.949, 1.65), (4.959, 2.01), (4.970, 2.83),
           (4.984, 3.61), (5.001, 3.90), (5.022, 4.08), (5.039, 4.18), (5.054, 3.83), (5.071, 3.47), (5.086, 3.35),
           (5.107, 3.38), (5.139, 3.43), (5.153, 3.18), (5.170, 3.08), (5.191, 2.94), (5.212, 2.76), (5.238, 2.72),
           (5.265, 2.61), (5.297, 2.44), (5.322, 2.29), (5.335, 2.40), (5.350, 2.83), (5.365, 3.72), (5.377, 3.90),
           (5.392, 4.02), (5.407, 3.51), (5.424, 3.33), (5.441, 3.26), (5.457, 3.38), (5.476, 3.22), (5.497, 3.04),
           (5.525, 2.94), (5.550, 2.79), (5.582, 2.65), (5.614, 2.51), (5.645, 2.44), (5.660, 2.40), (nan, nan),
           (5.709, 2.29), (5.723, 2.40), (5.736, 2.49), (5.751, 2.11), (5.766, 2.08), (5.783, 1.90), (5.799, 2.01),
           (5.814, 1.76), (5.829, 2.04), (5.842, 1.90), (5.856, 1.79), (5.871, 1.90), (5.888, 1.72), (5.903, 1.54),
           (5.915, 1.72), (5.930, 1.79), (5.947, 2.11), (5.962, 1.83), (5.977, 1.58), (5.987, 2.04), (6.000, 1.90)]
lwp_adiab = [(3.000, 3.33), (3.013, 3.33), (3.023, 3.27), (3.032, 2.83), (3.038, 2.11), (3.044, 1.40), (3.055, 1.17),
             (3.070, 1.58), (3.087, 2.33), (3.097, 2.61), (3.108, 2.85), (3.118, 1.54), (3.127, 1.33), (3.139, 1.47),
             (3.150, 1.33), (3.165, 1.40), (3.182, 1.69), (3.196, 2.83), (3.207, 3.58), (3.224, 3.63), (3.241, 3.68),
             (3.255, 3.65), (3.270, 3.26), (3.287, 2.61), (3.302, 1.40), (3.312, 1.47), (3.327, 1.42), (3.344, 1.37),
             (3.359, 1.40), (3.376, 1.40), (3.393, 1.58), (3.408, 1.69), (3.424, 3.20), (3.435, 2.47), (3.443, 1.95),
             (3.456, 1.85), (3.471, 1.79), (3.486, 2.11), (3.498, 1.58), (3.509, 1.47), (3.519, 1.40), (3.534, 1.19),
             (3.549, 1.04), (3.562, 1.19), (3.576, 1.40), (3.587, 1.83), (3.597, 1.58), (3.608, 1.26), (nan, nan),
             (3.809, 2.15), (3.823, 2.47), (3.840, 2.97), (3.857, 2.99), (3.874, 3.04), (3.891, 2.61), (3.904, 3.01),
             (3.920, 3.54), (3.935, 3.72), (3.946, 3.74), (3.963, 3.65), (3.977, 3.51), (3.992, 3.33), (4.009, 3.08),
             (4.026, 2.76), (4.043, 2.61), (4.060, 2.36), (4.077, 2.26), (nan, nan), (4.125, 1.47), (4.136, 2.11),
             (4.153, 3.11), (4.161, 3.54), (4.174, 3.59), (4.189, 2.97), (4.203, 2.69), (4.216, 2.94), (4.224, 3.04),
             (4.241, 2.61), (4.258, 2.24), (4.279, 2.23), (4.294, 2.26), (4.309, 2.61), (4.322, 2.47), (4.336, 2.15),
             (4.351, 2.54), (4.368, 2.61), (4.385, 2.61), (4.400, 2.47), (4.414, 2.40), (4.431, 2.47), (4.444, 2.33),
             (4.457, 1.97), (4.469, 1.65), (4.484, 1.54), (4.495, 1.58), (4.512, 1.40), (4.526, 1.19), (4.541, 1.04),
             (4.554, 1.47), (4.571, 1.62), (4.583, 1.47), (4.600, 1.58), (4.617, 1.37), (4.632, 1.22), (4.649, 1.12),
             (4.659, 0.97), (nan, nan), (4.681, 2.72), (4.695, 2.61), (4.706, 3.11), (4.721, 3.08), (4.740, 1.76),
             (4.752, 2.29), (4.769, 2.33), (4.784, 2.83), (4.801, 3.18), (4.811, 3.20), (4.826, 3.15), (4.839, 3.26),
             (4.854, 3.11), (4.864, 3.36), (4.875, 3.58), (4.885, 3.11), (4.900, 3.11), (4.913, 3.33), (4.921, 2.97),
             (4.938, 2.90), (4.955, 2.51), (4.970, 3.15), (4.984, 3.65), (5.001, 3.76), (5.018, 3.79), (5.039, 3.65),
             (5.054, 3.47), (5.075, 3.36), (5.096, 3.26), (5.117, 3.11), (5.139, 2.97), (5.160, 3.02), (5.181, 2.99),
             (5.202, 2.86), (5.223, 2.63), (5.238, 2.69), (5.255, 3.08), (5.276, 3.17), (5.293, 3.15), (5.308, 3.08),
             (5.322, 2.67), (5.339, 3.11), (5.356, 3.68), (5.371, 3.79), (5.386, 3.68), (5.398, 3.59), (5.413, 3.47),
             (5.428, 3.36), (5.445, 3.22), (5.466, 3.08), (5.487, 2.86), (5.504, 2.76), (5.519, 2.97), (5.540, 3.08),
             (5.561, 2.97), (5.576, 2.83), (5.593, 2.86), (5.609, 2.94), (5.624, 2.50), (5.666, 2.33), (5.681, 2.29),
             (5.698, 2.26), (5.709, 1.83), (5.719, 2.33), (5.736, 2.47), (5.751, 2.40), (5.766, 1.69), (5.774, 1.04),
             (5.783, 2.11), (5.799, 2.04), (5.814, 1.72), (5.829, 1.76), (5.842, 2.33), (5.856, 1.83), (5.871, 2.15),
             (5.888, 2.36), (5.903, 2.36), (5.915, 2.69), (5.926, 2.76), (5.937, 2.26), (5.951, 2.11), (5.968, 1.90),
             (5.983, 2.54), (5.994, 3.01), (6.000, 3.08)]
# uncertainty envelopes (hour, low, high)
lwp_phy_unc = [(3.020, 2.2, 2.9), (3.032, 1.3, 2.5), (3.038, -0.5, 1.3), (3.050, -0.5, 0.6), (3.060, -0.5, 0.7),
               (3.074, 0.3, 1.4), (3.091, 1.3, 2.0), (3.106, 1.8, 2.4), (3.115, 0.8, 1.9), (3.122, -0.5, 0.8),
               (nan, nan, nan), (3.175, 0.2, 1.4), (3.190, 1.8, 2.4), (3.205, 2.6, 3.0), (nan, nan, nan),
               (3.300, -0.5, 1.0), (3.320, -0.5, 1.2), (3.340, -0.5, 1.3), (3.360, -0.5, 1.5), (3.380, -0.2, 1.4),
               (3.400, 0.1, 1.3), (3.414, 0.5, 1.5), (3.430, 0.6, 1.6), (3.440, 0.7, 1.6), (3.452, 0.8, 1.5),
               (3.464, -0.5, 1.2), (3.480, -0.5, 1.4), (3.492, 0.5, 1.4), (3.502, 0.6, 1.5), (3.515, -0.5, 1.3),
               (3.540, -0.5, 1.2), (3.560, -0.5, 1.3), (3.580, -0.5, 1.4), (3.600, -0.5, 1.2), (3.616, -0.5, 0.6),
               (nan, nan, nan), (3.809, 1.2, 1.9), (3.823, 1.4, 1.9), (3.836, 2.2, 2.6), (3.851, 2.1, 2.5),
               (3.872, 2.2, 2.6), (3.882, 0.9, 1.7), (3.891, -0.5, 1.2), (3.899, 1.6, 2.3), (3.914, 2.2, 2.6),
               (nan, nan, nan), (4.105, 0.9, 2.3), (4.125, 1.5, 2.2), (4.136, 1.9, 2.3), (4.153, 2.2, 2.6),
               (4.174, 1.9, 2.4), (4.195, 1.85, 2.25), (4.216, 1.75, 2.15), (4.231, 1.85, 2.2), (4.246, 1.8, 2.15),
               (4.258, 1.45, 1.85), (4.279, 1.35, 1.8), (4.294, 1.3, 1.75), (4.309, 1.5, 1.9), (4.322, 1.85, 2.15),
               (4.336, 1.95, 2.2), (4.351, 1.85, 2.1), (4.372, 2.1, 2.35), (4.389, 1.95, 2.2), (4.410, 1.9, 2.15),
               (4.431, 1.85, 2.1), (4.442, 1.85, 2.1), (nan, nan, nan), (4.450, 0.5, 2.0), (4.457, 0.4, 1.6),
               (4.474, 0.6, 1.6), (4.486, 0.4, 1.55), (4.499, -0.5, 1.3), (4.512, -0.5, 1.0), (4.530, -0.5, 1.2),
               (4.554, -0.5, 1.4), (4.567, -0.2, 1.6), (4.579, -0.5, 1.3), (4.600, -0.5, 1.1), (4.617, -0.5, 1.2),
               (4.640, -0.5, 1.3), (4.664, -0.5, 0.9), (4.681, -0.5, 1.0), (4.695, 1.4, 2.4), (4.706, 2.6, 3.0),
               (4.716, 0.0, 1.6), (4.723, -0.5, 0.8), (4.737, -0.5, 1.0), (4.752, 0.9, 2.0), (4.765, 2.1, 2.6),
               (nan, nan, nan), (4.932, 1.5, 2.0), (4.949, 1.1, 1.85), (4.959, 1.6, 2.2), (nan, nan, nan),
               (5.709, 2.0, 2.4), (5.723, 2.1, 2.5), (5.736, 2.2, 2.6), (5.751, 1.8, 2.3), (5.766, 1.65, 2.2),
               (5.783, 1.4, 2.05), (5.799, 1.6, 2.15), (5.814, 1.2, 1.95), (5.829, 1.6, 2.2), (5.842, 1.4, 2.05),
               (5.856, 1.1, 1.95), (5.871, 1.4, 2.05), (5.888, 1.1, 1.9), (5.903, 0.9, 1.7), (5.915, 1.2, 1.85),
               (5.930, 1.3, 1.95), (5.947, 1.7, 2.25), (5.962, 1.3, 2.0), (5.977, 0.9, 1.75), (5.987, 1.6, 2.15),
               (6.000, 1.4, 2.05)]
lwp_adiab_unc = [(3.302, 1.1, 1.6), (3.327, 1.1, 1.7), (3.344, 1.0, 1.65), (3.376, 1.1, 1.7), (3.393, 1.3, 1.85),
                 (3.408, 1.4, 1.9), (3.424, 2.5, 3.3), (3.435, 1.9, 2.6), (3.443, 1.6, 2.1), (3.456, 1.5, 2.0),
                 (3.471, 1.4, 1.95), (3.486, 1.6, 2.4), (3.498, 1.1, 1.8), (3.519, 0.9, 1.65), (3.534, 0.7, 1.45),
                 (3.549, 0.5, 1.35), (3.562, 0.6, 1.45), (3.576, 0.9, 1.7), (3.587, 1.4, 2.2), (3.597, 1.1, 1.9),
                 (3.608, 0.6, 1.5), (nan, nan, nan), (4.241, 2.45, 2.7), (4.258, 2.1, 2.35), (4.279, 2.1, 2.35),
                 (4.294, 2.15, 2.4), (4.309, 2.45, 2.75), (4.322, 2.35, 2.6), (4.336, 2.0, 2.3), (4.351, 2.4, 2.65),
                 (4.368, 2.5, 2.72), (4.385, 2.5, 2.72), (4.400, 2.35, 2.6), (4.414, 2.25, 2.55), (4.431, 2.35, 2.6),
                 (nan, nan, nan), (4.457, 1.7, 2.2), (4.469, 1.35, 1.9), (4.484, 1.2, 1.8), (4.495, 1.2, 1.85),
                 (4.512, 1.0, 1.7), (4.526, 0.7, 1.5), (4.541, 0.5, 1.4), (4.554, 1.1, 1.75), (4.571, 1.3, 1.85),
                 (4.583, 1.1, 1.75), (4.600, 1.2, 1.85), (4.617, 0.9, 1.65), (4.632, 0.7, 1.55), (4.649, 0.5, 1.45),
                 (4.659, 0.3, 1.3), (nan, nan, nan), (5.709, 1.5, 2.1), (5.719, 2.1, 2.5), (5.736, 2.3, 2.6),
                 (5.751, 2.2, 2.55), (5.766, 1.3, 1.95), (5.774, 0.5, 1.4), (5.783, 1.8, 2.3), (5.799, 1.7, 2.25),
                 (5.814, 1.3, 1.95), (5.829, 1.4, 2.0), (5.842, 2.1, 2.5), (5.856, 1.4, 2.05), (5.871, 1.9, 2.35),
                 (5.888, 2.15, 2.5), (5.903, 2.15, 2.5), (5.915, 2.45, 2.85), (5.926, 2.55, 2.9), (5.937, 2.0, 2.45),
                 (5.951, 1.85, 2.3), (5.968, 1.55, 2.1), (5.983, 2.3, 2.7), (5.994, 2.85, 3.15), (6.000, 2.9, 3.2)]
adiab_lone = [(4.090, 1.86)]
lwp_gray = [(3.116, 3.133), (3.300, 3.334), (3.348, 3.416), (3.498, 3.515), (3.532, 3.600), (4.081, 4.098),
            (4.463, 4.480), (4.545, 4.562), (4.596, 4.613), (4.647, 4.664), (4.729, 4.746), (5.614, 5.666),
            (5.766, 5.782), (5.799, 5.816), (5.867, 5.884), (5.916, 5.932)]
lwp_yellow = [(3.133, 3.167), (3.334, 3.348), (3.616, 3.800), (4.098, 4.115), (5.666, 5.700)]
lwp_cyan = [(3.000, 3.032), (3.215, 3.300), (3.933, 4.066), (4.799, 4.915), (4.982, 5.316), (5.350, 5.666)]

# panel 5: DQ flag values, one-minute samples counted from 03:00 (first, last minute index of each run)
flag_runs_11 = [(0, 1), (13, 17), (56, 63), (108, 114), (119, 138), (141, 159)]
flag_runs_10 = [(0, 0), (13, 14), (56, 61), (108, 112), (119, 121), (123, 131), (141, 151)]
flag_runs_9 = [(14, 14), (56, 60), (111, 111), (119, 131), (141, 149)]
flag_runs_7 = [(57, 60), (119, 119), (121, 121), (123, 135), (143, 155)]
flag_runs_6 = [(0, 0), (13, 14), (33, 33), (35, 35), (56, 59), (99, 99), (102, 102), (112, 112), (120, 134),
               (142, 153), (158, 158)]
flag_runs_5 = [(8, 9), (20, 20), (37, 47), (66, 66), (160, 161)]
flag_runs_4 = [(7, 7), (18, 19), (21, 24), (30, 30), (32, 34), (65, 65), (88, 88), (93, 93), (99, 99), (104, 104),
               (157, 159), (166, 166), (168, 168), (172, 172), (175, 175)]
flag_runs_3 = [(35, 35), (96, 96)]
flag_runs_0 = [(2, 6), (10, 12), (25, 29), (31, 31), (36, 36), (48, 55), (64, 64), (67, 87), (89, 92), (94, 95),
               (97, 98), (100, 101), (103, 103), (105, 107), (115, 118), (139, 140), (162, 165), (167, 167),
               (169, 171), (173, 174), (176, 179)]

# ---------------- styling ----------------
AXBLUE = '#0072BD'
DARK = '#262626'
C2 = '#0000FF'
C3 = '#ADD8E6'
CPHY = '#FF8C00'
CADB = '#800080'
TAN = '#D0B28C'
BROWN = '#A12525'
LW_THIN = 2.8
LW_PHY = 6.5

fig = plt.figure(figsize=(38.25, 60), dpi=100)
fig.set_facecolor('white')
bottoms = [0.79933, 0.61183, 0.42433, 0.23683, 0.04933]
axs = [fig.add_axes([0.0983, b, 0.6881, 0.15133]) for b in bottoms]

fmt = FuncFormatter(lambda v, p: '%g' % v)


def style(ax, ylim, yticks, ylabel):
    ax.set_xlim(3, 6)
    ax.set_ylim(*ylim)
    ax.set_xticks([3, 3.5, 4, 4.5, 5, 5.5, 6])
    ax.set_yticks(yticks)
    ax.xaxis.set_major_formatter(fmt)
    ax.yaxis.set_major_formatter(fmt)
    ax.spines['top'].set_visible(False)
    for s in ('left', 'right'):
        ax.spines[s].set_color(AXBLUE)
        ax.spines[s].set_linewidth(1.4)
    ax.spines['bottom'].set_color(DARK)
    ax.spines['bottom'].set_linewidth(1.6)
    ax.tick_params(axis='x', direction='in', length=19, width=1.2, colors=DARK, labelsize=27, pad=19)
    ax.tick_params(axis='y', direction='in', length=19, width=1.4, colors=AXBLUE, labelsize=27, pad=21)
    ax.set_xlabel('UTC hours on 20241223', fontsize=34, color=DARK, labelpad=11)
    ax.set_ylabel(ylabel, fontsize=34, color=AXBLUE, labelpad=20)


def line(ax, pts, color, lw, label=None):
    t, v = zip(*pts)
    return ax.plot(t, v, color=color, lw=lw, label=label, zorder=2, solid_joinstyle='round')[0]


def spans(ax, bands, color, alpha=0.5):
    for a, b in bands:
        ax.axvspan(a, b, color=color, alpha=alpha, lw=0, zorder=3)


def envelope(ax, pts, color):
    t, lo, hi = zip(*pts)
    ax.fill_between(t, lo, hi, color=color, alpha=0.2, lw=0, zorder=1)


def legend(ax, x, y, spacing=0.67):
    return ax.legend(loc='upper left', bbox_to_anchor=(x, y), frameon=False, fontsize=27,
                     handlelength=6.3, handletextpad=0.6, labelspacing=spacing, borderpad=0, borderaxespad=0)


# panel 1
ax = axs[0]
line(ax, bt23_2c, C2, LW_THIN, 'MWR 2C (tan = wet window)')
line(ax, bt23_3c, C3, LW_THIN, 'MWR 3C')
line(ax, bt23_phy, CPHY, LW_PHY, 'Phy-Iter')
spans(ax, wet_window, TAN)
style(ax, (16.8, 233), [50, 100, 150, 200], 'Zenith BT 23 GHz, K')
legend(ax, 0.095, 0.913)

# panel 2
ax = axs[1]
line(ax, bt31_2c, C2, LW_THIN, 'MWR2C')
line(ax, bt31_3c, C3, LW_THIN, 'MWR 3C (tan = rain flag)')
line(ax, bt31_phy, CPHY, LW_PHY, 'Phy-Iter')
spans(ax, rain_flag, TAN)
style(ax, (4.2, 263), [50, 100, 150, 200, 250], 'Zenith BT 31 GHz, K')
legend(ax, 0.1094, 0.912)

# panel 3
ax = axs[2]
line(ax, pwv_2c, C2, LW_THIN, 'MWR 2C PWV')
line(ax, pwv_3c, C3, LW_THIN, 'MWR 3C PWV')
line(ax, pwv_phy, CPHY, LW_PHY, 'Phy-Iter PWV\n(tan = MWR 2C only)\n(brown = MWR 3C only)')
spans(ax, only_2c, TAN)
spans(ax, only_3c, BROWN)
style(ax, (-1.41, 7.0), [-1, 0, 1, 2, 3, 4, 5, 6], 'Precip. Water Vapor, mm')
leg = legend(ax, 0.0315, 0.896)
for txt in leg.get_texts():
    txt.set_linespacing(1.62)

# panel 4
ax = axs[3]
envelope(ax, lwp_phy_unc, CPHY)
envelope(ax, lwp_adiab_unc, CADB)
line(ax, lwp_2c, C2, LW_THIN, 'MWR 2C LWP')
line(ax, lwp_3c, C3, LW_THIN, 'MWR 3C LWP')
line(ax, lwp_phy, CPHY, LW_PHY, 'Phy-Iter LWP')
line(ax, lwp_adiab, CADB, LW_THIN, 'Adiabatic LWP')
lt, lv = zip(*adiab_lone)
ax.plot(lt, lv, 'x', color=CADB, ms=10, mew=2.5, zorder=2)
spans(ax, lwp_gray, '#CCCCCC')
spans(ax, lwp_yellow, 'yellow')
spans(ax, lwp_cyan, 'cyan')
style(ax, (-0.103, 4.5), [0, 0.5, 1, 1.5, 2, 2.5, 3, 3.5, 4, 4.5], 'log10 Liquid Water Path, log10(g/m$^2$)')
legend(ax, 0.731, 0.278, spacing=0.58)

# panel 5
ax = axs[4]
for flag, runs in [(11, flag_runs_11), (10, flag_runs_10), (9, flag_runs_9), (7, flag_runs_7), (6, flag_runs_6),
                   (5, flag_runs_5), (4, flag_runs_4), (3, flag_runs_3), (0, flag_runs_0)]:
    minutes = [k for a, b in runs for k in range(a, b + 1)]
    t = [3 + (k + 0.5) / 60 for k in minutes]
    ax.plot(t, [flag] * len(t), 'o', color=CPHY, ms=6.3, mew=0, zorder=2)
style(ax, (-0.5, 11.5), [0, 2, 4, 6, 8, 10], 'MWR Phy Iter DQ Flag')

fig.savefig('out.png', dpi=100, facecolor='white')
